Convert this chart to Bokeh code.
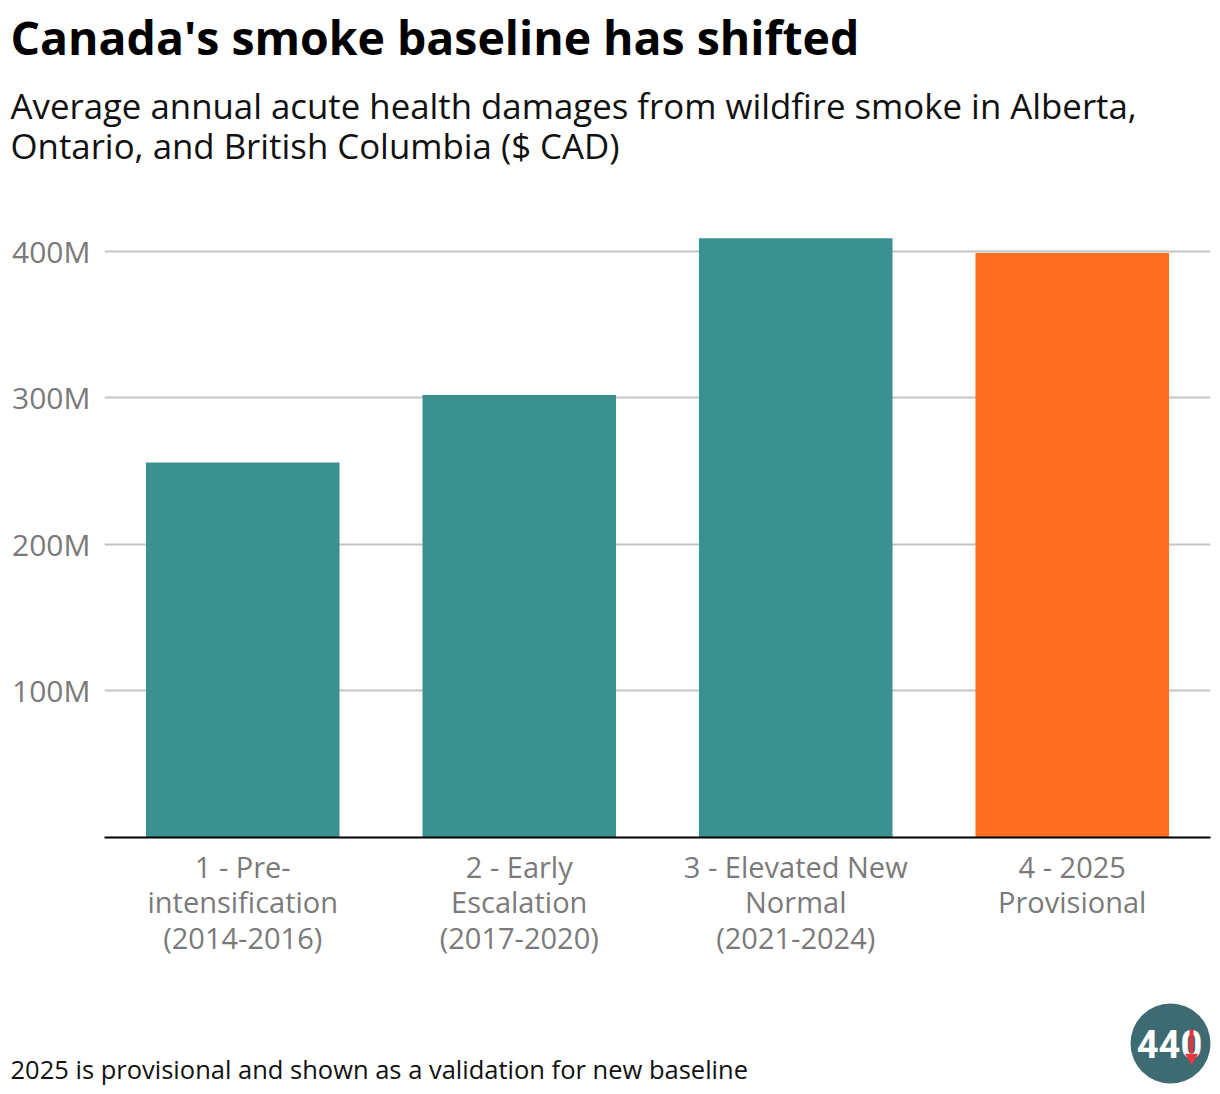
import math
from bokeh.plotting import figure
from bokeh.layouts import column
from bokeh.models import ColumnDataSource, FixedTicker, PrintfTickFormatter, Range1d
from bokeh.core.properties import value
from bokeh.embed import file_html
from bokeh.resources import INLINE

# ---- data ----
categories = ["1 - Pre-\nintensification\n(2014-2016)",
              "2 - Early\nEscalation\n(2017-2020)",
              "3 - Elevated New\nNormal\n(2021-2024)",
              "4 - 2025\nProvisional"]
values_millions = [256, 302, 409, 399]
bar_colors = ["#3b918d", "#3b918d", "#3b918d", "#ff6f1f"]
y_ticks = [100, 200, 300, 400]

title_text = "Canada's smoke baseline has shifted"
subtitle_lines = ["Average annual acute health damages from wildfire smoke in Alberta,",
                  "Ontario, and British Columbia ($ CAD)"]
footnote_text = "2025 is provisional and shown as a validation for new baseline"

FONT = "Open Sans"
W = 1220


def blank_fig(height, top):
    f = figure(width=W, height=height, output_backend="svg", toolbar_location=None,
               x_range=Range1d(0, W), y_range=Range1d(top + height, top),
               min_border=0, x_axis_type=None, y_axis_type=None, frame_align=False)
    f.outline_line_color = None
    f.grid.visible = False
    return f


# ---- header ----
HEAD_H = 200
head = blank_fig(HEAD_H, 0)
head.text(x=[10], y=[36], text=[title_text], text_font=value(FONT),
          text_font_style="bold", text_font_size="46.4px", text_color="black",
          text_baseline="alphabetic")
head.text(x=[10, 10], y=[105, 145], text=subtitle_lines, text_font=value(FONT),
          text_font_size="34.8px", text_color="#111111", text_baseline="alphabetic")

# ---- main chart ----
positions = list(range(len(categories)))
source = ColumnDataSource(dict(x=positions, top=values_millions, color=bar_colors))

MAIN_H = 800
FRAME_BOTTOM = 837 - HEAD_H  # px within main figure
p = figure(width=W, height=MAIN_H, output_backend="svg", toolbar_location=None,
           x_range=Range1d(-0.5, len(categories) - 0.5),
           y_range=Range1d(0, 434.8),
           min_border_left=104, min_border_right=10, min_border_top=0,
           min_border_bottom=MAIN_H - FRAME_BOTTOM, frame_align=False)
p.outline_line_color = None

p.vbar(x="x", top="top", width=0.7, color="color", source=source, line_color=None)

p.yaxis.ticker = FixedTicker(ticks=y_ticks)
p.yaxis.formatter = PrintfTickFormatter(format="%dM")
p.yaxis.axis_line_color = None
p.yaxis.major_tick_line_color = None
p.yaxis.minor_tick_line_color = None
p.yaxis.major_label_text_font = FONT
p.yaxis.major_label_text_font_size = "30px"
p.yaxis.major_label_text_color = "#7a7a7a"
p.yaxis.major_label_standoff = 8

p.xaxis.ticker = FixedTicker(ticks=positions)
p.xaxis.major_label_overrides = {i: c for i, c in zip(positions, categories)}
p.xaxis.axis_line_color = "black"
p.xaxis.axis_line_width = 2
p.xaxis.major_tick_line_color = None
p.xaxis.minor_tick_line_color = None
p.xaxis.major_label_text_font = FONT
p.xaxis.major_label_text_font_size = "29px"
p.xaxis.major_label_text_line_height = 0.92
p.xaxis.major_label_text_color = "#7a7a7a"
p.xaxis.major_label_standoff = 3

p.xgrid.grid_line_color = None
p.ygrid.ticker = FixedTicker(ticks=y_ticks)
p.ygrid.grid_line_color = "#c4c4c4"
p.ygrid.grid_line_width = 2

# ---- footer ----
FOOT_TOP = HEAD_H + MAIN_H
FOOT_H = 1094 - FOOT_TOP
foot = blank_fig(FOOT_H, FOOT_TOP)
foot.text(x=[10], y=[1068], text=[footnote_text], text_font=value(FONT),
          text_font_size="25.5px", text_color="#111111", text_baseline="alphabetic")
# logo
foot.circle(x=[1170], y=[1043], radius=40, fill_color="#3e6b72", line_color=None)
foot.text(x=[1169], y=[1043], text=["440"], text_font=value("Roboto"),
          text_font_style="bold", text_font_size="38px", text_color="white",
          text_align="center", text_baseline="middle")
foot.segment(x0=[1191], y0=[1029], x1=[1191], y1=[1052], line_color="#e8343a", line_width=4)
foot.scatter(x=[1191], y=[1057], marker="triangle", size=13, angle=math.pi,
             fill_color="#e8343a", line_color=None)

layout = column(head, p, foot, spacing=0)
open("out.html", "w").write(file_html(layout, INLINE))
